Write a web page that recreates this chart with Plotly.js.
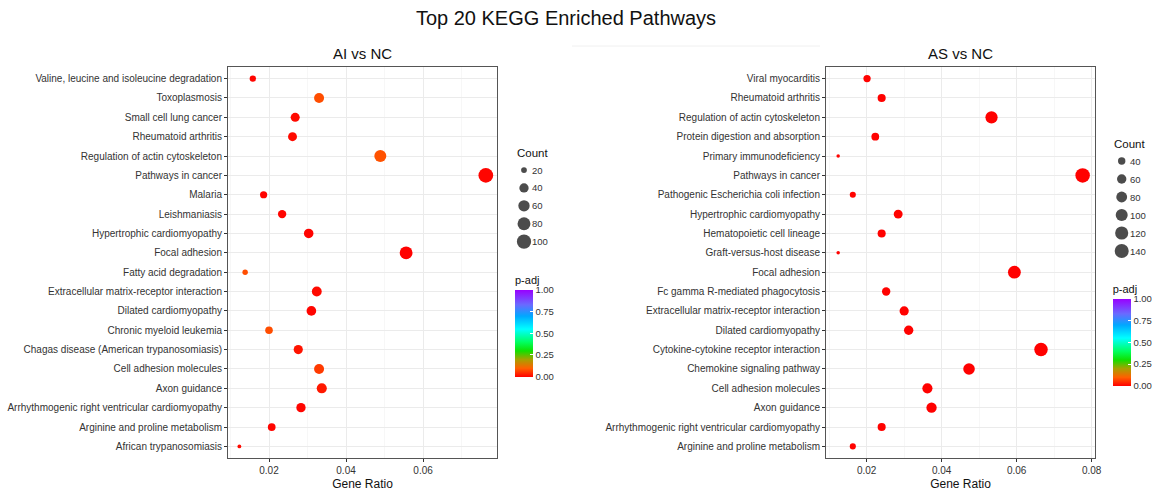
<!DOCTYPE html>
<html>
<head>
<meta charset="utf-8">
<script src="https://cdn.plot.ly/plotly-3.0.1.min.js"></script>
<style>html,body{margin:0;padding:0;background:#fff;}#chart{width:1159px;height:491px;}</style>
</head>
<body>
<div id="chart"></div>
<script>
// ---------- Data ----------
const aiPathways = [
  "Valine, leucine and isoleucine degradation","Toxoplasmosis","Small cell lung cancer","Rheumatoid arthritis",
  "Regulation of actin cytoskeleton","Pathways in cancer","Malaria","Leishmaniasis","Hypertrophic cardiomyopathy",
  "Focal adhesion","Fatty acid degradation","Extracellular matrix-receptor interaction","Dilated cardiomyopathy",
  "Chronic myeloid leukemia","Chagas disease (American trypanosomiasis)","Cell adhesion molecules","Axon guidance",
  "Arrhythmogenic right ventricular cardiomyopathy","Arginine and proline metabolism","African trypanosomiasis"
];
const aiGeneRatio = [0.0158,0.0330,0.0268,0.0261,0.0489,0.0763,0.0186,0.0234,0.0303,0.0556,
                     0.0138,0.0324,0.0310,0.0200,0.0276,0.0330,0.0337,0.0283,0.0207,0.0123];
const aiCount = [22,46,38,37,68,107,26,33,42,78,19,45,43,28,39,46,47,40,29,17];
const aiPadj = [0.005,0.08,0.01,0.01,0.085,0.005,0.003,0.005,0.003,0.002,
                0.08,0.01,0.005,0.08,0.02,0.06,0.025,0.005,0.005,0.01];

const asPathways = [
  "Viral myocarditis","Rheumatoid arthritis","Regulation of actin cytoskeleton","Protein digestion and absorption",
  "Primary immunodeficiency","Pathways in cancer","Pathogenic Escherichia coli infection","Hypertrophic cardiomyopathy",
  "Hematopoietic cell lineage","Graft-versus-host disease","Focal adhesion","Fc gamma R-mediated phagocytosis",
  "Extracellular matrix-receptor interaction","Dilated cardiomyopathy","Cytokine-cytokine receptor interaction",
  "Chemokine signaling pathway","Cell adhesion molecules","Axon guidance",
  "Arrhythmogenic right ventricular cardiomyopathy","Arginine and proline metabolism"
];
const asGeneRatio = [0.0201,0.0240,0.0533,0.0223,0.0124,0.0776,0.0163,0.0284,0.0240,0.0124,
                     0.0594,0.0252,0.0300,0.0312,0.0665,0.0473,0.0362,0.0373,0.0240,0.0163];
const asCount = [39,46,103,43,24,150,31,55,46,24,115,49,58,60,128,91,70,72,46,31];
const asPadj = [0.002,0.002,0.001,0.002,0.003,0.001,0.003,0.002,0.002,0.003,
                0.001,0.002,0.002,0.002,0.001,0.001,0.001,0.001,0.002,0.003];

const aiLegendCounts = [20,40,60,80,100];
const asLegendCounts = [40,60,80,100,120,140];
const padjTicks = [0,0.25,0.5,0.75,1];
const xTicks = [0.02,0.04,0.06,0.08];

// ---------- Helpers ----------
const W = 1159, H = 491;
const px = v => v / W;
const py = v => 1 - v / H;
const FONT = "Liberation Sans, Arial, sans-serif";
const TXT = "#333333";

function sizeScale(vals, cmin, cmax, dmin, dmax) {
  return vals.map(v => dmin + (dmax - dmin) * Math.sqrt(Math.max(0, (v - cmin) / (cmax - cmin))));
}
const aiMin = Math.min(...aiCount), aiMax = Math.max(...aiCount);
const asMin = Math.min(...asCount), asMax = Math.max(...asCount);
const AI_D = [3.8, 14.7], AS_D = [3.5, 14.5];

const colorscale = [
  [0.00,'#FF0000'],[0.10,'#FF6000'],[0.20,'#A8A000'],[0.30,'#10E000'],
  [0.40,'#00FF60'],[0.55,'#00FFFF'],[0.70,'#00A8FF'],[0.83,'#6A6AFF'],[1.00,'#9900FF']
];

function idx(arr){ return arr.map((_, i) => i); }

const traces = [
  {
    type:'scatter', mode:'markers', x: aiGeneRatio, y: aiPathways, xaxis:'x', yaxis:'y',
    marker:{ size: sizeScale(aiCount, aiMin, aiMax, AI_D[0], AI_D[1]), color: aiPadj, coloraxis:'coloraxis', line:{width:0}, opacity:1 },
    hoverinfo:'x+y'
  },
  {
    type:'scatter', mode:'markers', x: asGeneRatio, y: asPathways, xaxis:'x2', yaxis:'y2',
    marker:{ size: sizeScale(asCount, asMin, asMax, AS_D[0], AS_D[1]), color: asPadj, coloraxis:'coloraxis2', line:{width:0}, opacity:1 },
    hoverinfo:'x+y'
  },
  // size legends
  {
    type:'scatter', mode:'markers', x: aiLegendCounts.map(() => 0), y: idx(aiLegendCounts), xaxis:'x3', yaxis:'y3',
    marker:{ size: sizeScale(aiLegendCounts, aiMin, aiMax, AI_D[0], AI_D[1]), color:'#000000', line:{width:0} },
    hoverinfo:'skip'
  },
  {
    type:'scatter', mode:'markers', x: asLegendCounts.map(() => 0), y: idx(asLegendCounts), xaxis:'x4', yaxis:'y4',
    marker:{ size: sizeScale(asLegendCounts, asMin, asMax, AS_D[0], AS_D[1]), color:'#000000', line:{width:0} },
    hoverinfo:'skip'
  }
];

function catAxis(cats, anchor) {
  return {
    type:'category', categoryorder:'array', categoryarray: cats, range:[cats.length - 0.4, -0.6],
    anchor: anchor, domain:[py(458), py(67)],
    showgrid:true, gridcolor:'#EBEBEB', gridwidth:1,
    showline:true, mirror:true, linecolor:'#555555', linewidth:1,
    ticks:'outside', ticklen:3, tickwidth:1, tickcolor:'#333333',
    tickfont:{family:FONT, size:10, color:TXT}, zeroline:false, fixedrange:true
  };
}
function numAxis(range, domain, anchor) {
  return {
    range: range, domain: domain, anchor: anchor,
    tickvals: xTicks, ticktext: xTicks.map(v => v.toFixed(2)),
    showgrid:true, gridcolor:'#EBEBEB', gridwidth:1,
    minor:{ tickvals:[0.01,0.03,0.05,0.07], showgrid:true, gridcolor:'#F3F3F3', gridwidth:0.7, ticks:'' },
    showline:true, mirror:true, linecolor:'#555555', linewidth:1,
    ticks:'outside', ticklen:3, tickwidth:1, tickcolor:'#333333',
    tickfont:{family:FONT, size:10, color:TXT}, zeroline:false, fixedrange:true,
    title:{ text:'Gene Ratio', font:{family:FONT, size:12, color:'#111111'}, standoff:4 }
  };
}
function hiddenAxis(extra) {
  return Object.assign({ showgrid:false, zeroline:false, showline:false, showticklabels:false, ticks:'', fixedrange:true }, extra);
}
// barTop / barBottom are the pixel rows of the colour strip itself; the title sits above it
function colorbar(xLeft, barTop, barBottom) {
  const titleH = 15;
  const len = (barBottom - barTop) + titleH;
  const center = barBottom - len / 2;
  return {
    x: px(xLeft), xanchor:'left', y: py(center), yanchor:'middle',
    len: len, lenmode:'pixels', thickness: 18, thicknessmode:'pixels',
    xpad: 0, ypad: 0, outlinewidth: 0,
    tickvals: padjTicks, tickformat:'.2f', ticks:'inside', ticklen:3, tickcolor:'#FFFFFF', tickwidth:1,
    tickfont:{family:FONT, size:9.5, color:TXT},
    title:{ text:'p-adj', side:'top', font:{family:FONT, size:11, color:'#111111'} }
  };
}

const annotations = [
  { text:'AI vs NC', x: px(362.5), y: py(53), xref:'paper', yref:'paper', showarrow:false, xanchor:'center', yanchor:'middle',
    font:{family:FONT, size:15, color:'#111111'} },
  { text:'AS vs NC', x: px(960.5), y: py(53), xref:'paper', yref:'paper', showarrow:false, xanchor:'center', yanchor:'middle',
    font:{family:FONT, size:15, color:'#111111'} },
  { text:'Count', x: px(515), y: py(153), xref:'paper', yref:'paper', showarrow:false, xanchor:'left', yanchor:'middle',
    font:{family:FONT, size:11.5, color:'#111111'} },
  { text:'Count', x: px(1112), y: py(144), xref:'paper', yref:'paper', showarrow:false, xanchor:'left', yanchor:'middle',
    font:{family:FONT, size:11.5, color:'#111111'} }
];
aiLegendCounts.forEach((v, i) => annotations.push({
  text: String(v), x: 0.6, y: i, xref:'x3', yref:'y3', showarrow:false, xanchor:'left', yanchor:'middle',
  font:{family:FONT, size:9.5, color:TXT}
}));
asLegendCounts.forEach((v, i) => annotations.push({
  text: String(v), x: 0.6, y: i, xref:'x4', yref:'y4', showarrow:false, xanchor:'left', yanchor:'middle',
  font:{family:FONT, size:9.5, color:TXT}
}));

const layout = {
  width: W, height: H, margin:{l:0, r:0, t:0, b:0, pad:0},
  paper_bgcolor:'#FFFFFF', plot_bgcolor:'#FFFFFF', showlegend:false,
  font:{family:FONT, color:TXT},
  title:{ text:'Top 20 KEGG Enriched Pathways', x: px(566), xanchor:'center', y: py(18), yanchor:'middle',
          font:{family:FONT, size:20, color:'#111111'} },
  xaxis: numAxis([0.00935, 0.0792], [px(228), px(497)], 'y'),
  yaxis: catAxis(aiPathways, 'x'),
  xaxis2: numAxis([0.00915, 0.0809], [px(826), px(1095)], 'y2'),
  yaxis2: catAxis(asPathways, 'x2'),
  xaxis3: hiddenAxis({ domain:[px(514), px(534)], range:[-1, 1], anchor:'y3' }),
  yaxis3: hiddenAxis({ domain:[py(250.6), py(161.1)], range:[4.5, -0.5], anchor:'x3' }),
  xaxis4: hiddenAxis({ domain:[px(1111.7), px(1131.7)], range:[-1, 1], anchor:'y4' }),
  yaxis4: hiddenAxis({ domain:[py(260), py(152)], range:[5.5, -0.5], anchor:'x4' }),
  coloraxis:{ cmin:0, cmax:1, colorscale: colorscale, colorbar: colorbar(515, 287.7, 376.7) },
  coloraxis2:{ cmin:0, cmax:1, colorscale: colorscale, colorbar: colorbar(1112.7, 296.7, 386) },
  annotations: annotations,
  shapes:[ { type:'line', xref:'paper', yref:'paper', x0: px(572), x1: px(820), y0: py(46), y1: py(46),
             line:{color:'#F0F0F0', width:1} } ]
};

Plotly.newPlot('chart', traces, layout, {displayModeBar:false, staticPlot:true});
</script>
</body>
</html>
